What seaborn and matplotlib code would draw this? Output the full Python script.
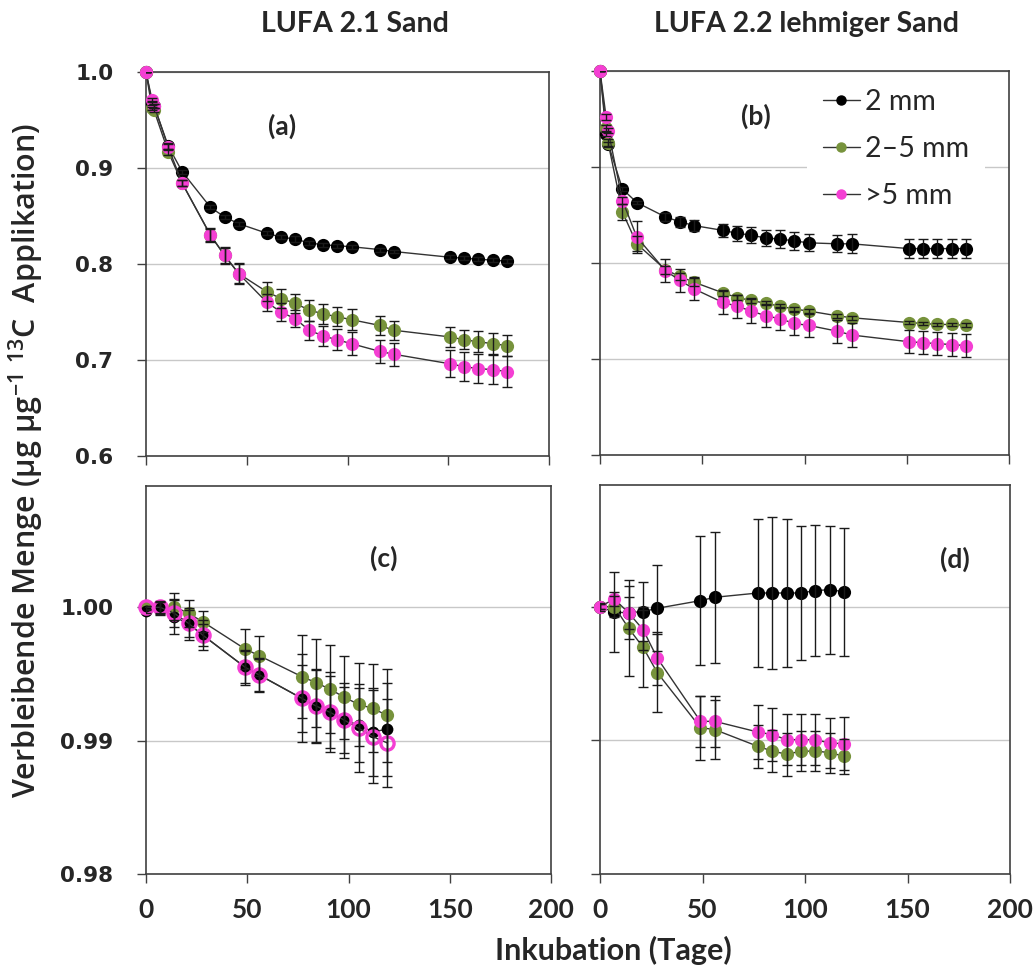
import numpy as np
import pandas as pd
import matplotlib
matplotlib.use('Agg')
import matplotlib.pyplot as plt
import seaborn as sns
from matplotlib.lines import Line2D

# ---------------- data ----------------
days_ab = [0, 3, 4, 11, 18, 32, 39, 46, 60, 67, 74, 81, 88, 95, 102, 116, 123, 151, 158, 165, 172, 179]
days_cd = [0, 7, 14, 21, 28, 49, 56, 77, 84, 91, 98, 105, 112, 119]

series_labels = ['2 mm', '2–5 mm', '>5 mm']

# (a) LUFA 2.1 Sand, upper
a_black = [1.000, 0.968, 0.965, 0.923, 0.896, 0.859, 0.849, 0.842, 0.832, 0.828, 0.826, 0.822, 0.820, 0.819, 0.818, 0.815, 0.813, 0.807, 0.806, 0.805, 0.804, 0.803]
a_black_err = [0.0, 0.002, 0.002, 0.003, 0.002, 0.002, 0.002, 0.002, 0.002, 0.002, 0.003, 0.002, 0.002, 0.002, 0.002, 0.002, 0.002, 0.002, 0.002, 0.002, 0.002, 0.002]
a_green = [1.000, 0.962, 0.960, 0.917, 0.884, 0.830, 0.809, 0.790, 0.771, 0.764, 0.759, 0.752, 0.748, 0.745, 0.742, 0.736, 0.731, 0.724, 0.721, 0.719, 0.717, 0.715]
a_green_err = [0.0, 0.002, 0.002, 0.003, 0.003, 0.006, 0.008, 0.010, 0.010, 0.010, 0.010, 0.011, 0.010, 0.010, 0.011, 0.010, 0.010, 0.010, 0.010, 0.011, 0.011, 0.011]
a_pink = [1.000, 0.971, 0.965, 0.922, 0.884, 0.830, 0.809, 0.790, 0.760, 0.750, 0.743, 0.731, 0.725, 0.721, 0.717, 0.709, 0.706, 0.696, 0.693, 0.691, 0.690, 0.688]
a_pink_err = [0.0, 0.002, 0.002, 0.003, 0.003, 0.007, 0.009, 0.011, 0.009, 0.009, 0.009, 0.010, 0.010, 0.011, 0.012, 0.012, 0.012, 0.014, 0.015, 0.015, 0.015, 0.016]

# (b) LUFA 2.2 lehmiger Sand, upper
b_black = [1.000, 0.934, 0.924, 0.877, 0.863, 0.848, 0.843, 0.839, 0.834, 0.831, 0.829, 0.826, 0.825, 0.823, 0.821, 0.820, 0.820, 0.815, 0.815, 0.815, 0.815, 0.815]
b_black_err = [0.0, 0.002, 0.002, 0.002, 0.002, 0.004, 0.005, 0.006, 0.007, 0.008, 0.008, 0.008, 0.009, 0.009, 0.009, 0.009, 0.010, 0.010, 0.010, 0.010, 0.010, 0.010]
b_green = [1.000, 0.941, 0.925, 0.853, 0.820, 0.793, 0.786, 0.780, 0.769, 0.764, 0.761, 0.758, 0.755, 0.752, 0.750, 0.745, 0.743, 0.738, 0.737, 0.736, 0.736, 0.735]
b_green_err = [0.0, 0.003, 0.004, 0.008, 0.008, 0.004, 0.004, 0.004, 0.003, 0.003, 0.003, 0.002, 0.002, 0.002, 0.002, 0.002, 0.002, 0.002, 0.002, 0.002, 0.002, 0.002]
b_pink = [1.000, 0.952, 0.938, 0.865, 0.827, 0.792, 0.782, 0.773, 0.759, 0.755, 0.750, 0.745, 0.742, 0.737, 0.735, 0.729, 0.725, 0.718, 0.717, 0.716, 0.715, 0.714]
b_pink_err = [0.0, 0.003, 0.003, 0.004, 0.017, 0.012, 0.012, 0.012, 0.012, 0.012, 0.012, 0.012, 0.012, 0.012, 0.012, 0.012, 0.012, 0.012, 0.012, 0.012, 0.012, 0.012]

# (c) LUFA 2.1 Sand, lower
c_black = [0.99970, 0.99992, 0.99930, 0.99875, 0.99792, 0.99550, 0.99492, 0.99317, 0.99260, 0.99212, 0.99155, 0.99117, 0.99067, 0.99085]
c_black_err = [0.0001, 0.0005, 0.0013, 0.0012, 0.0008, 0.0012, 0.0012, 0.0033, 0.0028, 0.0027, 0.0025, 0.0028, 0.0033, 0.0035]
c_green = [1.00000, 1.00000, 1.00005, 0.99955, 0.99892, 0.99687, 0.99637, 0.99480, 0.99435, 0.99385, 0.99325, 0.99272, 0.99242, 0.99190]
c_green_err = [0.0001, 0.0005, 0.0010, 0.0010, 0.0008, 0.0015, 0.0015, 0.0031, 0.0033, 0.0033, 0.0031, 0.0031, 0.0033, 0.0035]
c_pink = [1.00000, 1.00000, 0.99955, 0.99880, 0.99792, 0.99550, 0.99492, 0.99317, 0.99260, 0.99212, 0.99153, 0.99093, 0.99030, 0.98984]
c_pink_err = [0.0001, 0.0004, 0.0010, 0.0010, 0.0011, 0.0013, 0.0013, 0.0025, 0.0027, 0.0030, 0.0028, 0.0033, 0.0035, 0.0033]

# (d) LUFA 2.2 lehmiger Sand, lower
d_black = [1.00000, 0.99958, 0.99955, 0.99963, 0.99988, 1.00045, 1.00070, 1.00102, 1.00102, 1.00102, 1.00102, 1.00120, 1.00127, 1.00112]
d_black_err = [0.0003, 0.0030, 0.0020, 0.0022, 0.0032, 0.0048, 0.0049, 0.0055, 0.0057, 0.0055, 0.0050, 0.0049, 0.0048, 0.0048]
d_green = [1.00000, 1.00000, 0.99838, 0.99696, 0.99505, 0.99095, 0.99080, 0.98955, 0.98920, 0.98896, 0.98918, 0.98920, 0.98908, 0.98881]
d_green_err = [0.0002, 0.0008, 0.0036, 0.0030, 0.0029, 0.0024, 0.0022, 0.0016, 0.0016, 0.0016, 0.0015, 0.0015, 0.0015, 0.0013]
d_pink = [1.00000, 1.00057, 0.99953, 0.99828, 0.99614, 0.99142, 0.99142, 0.99062, 0.99043, 0.99005, 0.99005, 0.99005, 0.98980, 0.98975]
d_pink_err = [0.0002, 0.0005, 0.0012, 0.0015, 0.0020, 0.0019, 0.0019, 0.0020, 0.0020, 0.0019, 0.0019, 0.0019, 0.0019, 0.0020]

xticks = [0, 50, 100, 150, 200]
yticks_top = [0.6, 0.7, 0.8, 0.9, 1.0]
yticklabels_top = ['0.6', '0.7', '0.8', '0.9', '1.0']
yticks_bot = [0.98, 0.99, 1.00]
yticklabels_bot = ['0.98', '0.99', '1.00']

# ---------------- style ----------------
sns.set_theme(style='white')
plt.rcParams['font.family'] = ['Lato', 'DejaVu Sans']
plt.rcParams['mathtext.default'] = 'regular'

C_BLACK = '#000000'
C_GREEN = '#77933C'
C_PINK = '#F43FD3'
colors = [C_BLACK, C_GREEN, C_PINK]
LINE_C = '#333333'
SPINE_C = '#404040'
GRID_C = '#c8c8c8'
ERR_C = '#1a1a1a'

W, H = 1035, 973
fig = plt.figure(figsize=(W / 100, H / 100), dpi=100)


def px_axes(l, t, r, b):
    return fig.add_axes([l / W, 1 - b / H, (r - l) / W, (b - t) / H])


ax_a = px_axes(146, 72, 549, 456)
ax_b = px_axes(600, 71, 1009, 455)
ax_c = px_axes(146, 486, 551, 874)
ax_d = px_axes(600, 485, 1010, 874)


def draw(ax, days, vals, errs, color, hollow=False, ms=9.5, z=3):
    df = pd.DataFrame({'day': days, 'val': vals})
    sns.lineplot(data=df, x='day', y='val', ax=ax, color=LINE_C, lw=1.0,
                 marker='o', markersize=ms,
                 markerfacecolor=('none' if hollow else color),
                 markeredgecolor=color,
                 markeredgewidth=(2.4 if hollow else 0),
                 zorder=z, legend=False, errorbar=None, clip_on=False)
    ax.errorbar(days, vals, yerr=errs, fmt='none', ecolor=ERR_C,
                elinewidth=1.0, capsize=3.5, capthick=1.0, zorder=10)


draw(ax_a, days_ab, a_black, a_black_err, C_BLACK, z=3)
draw(ax_a, days_ab, a_green, a_green_err, C_GREEN, z=4)
draw(ax_a, days_ab, a_pink, a_pink_err, C_PINK, z=5)

draw(ax_b, days_ab, b_black, b_black_err, C_BLACK, z=3)
draw(ax_b, days_ab, b_green, b_green_err, C_GREEN, z=4)
draw(ax_b, days_ab, b_pink, b_pink_err, C_PINK, z=5)

draw(ax_c, days_cd, c_green, c_green_err, C_GREEN, z=3)
draw(ax_c, days_cd, c_black, c_black_err, C_BLACK, ms=8.5, z=4)
draw(ax_c, days_cd, c_pink, c_pink_err, C_PINK, hollow=True, ms=9.5, z=5)

draw(ax_d, days_cd, d_black, d_black_err, C_BLACK, z=3)
draw(ax_d, days_cd, d_green, d_green_err, C_GREEN, z=4)
draw(ax_d, days_cd, d_pink, d_pink_err, C_PINK, z=5)

ytick_font = dict(family='DejaVu Sans', weight='bold', size=15.5)

for ax in (ax_a, ax_b, ax_c, ax_d):
    ax.set_xlim(0, 200)
    ax.set_xticks(xticks)
    ax.set_xlabel('')
    ax.set_ylabel('')
    for s in ax.spines.values():
        s.set_visible(True)
        s.set_color(SPINE_C)
        s.set_linewidth(1.2)
    ax.tick_params(axis='both', which='major', direction='out', length=6.5,
                   width=1, color=SPINE_C, bottom=True, left=True, top=False, right=False)
    ax.yaxis.grid(True, color=GRID_C, lw=1)
    ax.xaxis.grid(False)
    ax.set_axisbelow(True)
    ax.set_facecolor('white')

for ax in (ax_a, ax_b):
    ax.set_ylim(0.6, 1.0)
    ax.set_yticks(yticks_top)
    ax.set_xticklabels([])
for ax in (ax_c, ax_d):
    ax.set_ylim(0.98, 1.0091)
    ax.set_yticks(yticks_bot)
    ax.set_xticks(xticks)
    ax.set_xticklabels([str(t) for t in xticks], fontsize=19, fontweight='bold')
    ax.tick_params(axis='x', pad=11)

ax_a.set_yticklabels(yticklabels_top, fontdict=ytick_font)
ax_c.set_yticklabels(yticklabels_bot, fontdict=ytick_font)
ax_b.set_yticklabels([])
ax_d.set_yticklabels([])
for ax in (ax_a, ax_c):
    ax.tick_params(axis='y', pad=17)

# panel letters
letter_kw = dict(fontsize=19, fontweight='bold', ha='center', va='center')
ax_a.text(0.337, 0.858, '(a)', transform=ax_a.transAxes, **letter_kw)
ax_b.text(0.381, 0.881, '(b)', transform=ax_b.transAxes, **letter_kw)
ax_c.text(0.586, 0.814, '(c)', transform=ax_c.transAxes, **letter_kw)
ax_d.text(0.866, 0.809, '(d)', transform=ax_d.transAxes, **letter_kw)

# legend
handles = [Line2D([0], [0], color=LINE_C, lw=1.0, marker='o', markersize=6.5,
                  markerfacecolor=c, markeredgecolor=c) for c in colors]
leg = ax_b.legend(handles, series_labels, loc='upper left',
                  bbox_to_anchor=((807 - 600) / 409, (455 - 73) / 384),
                  borderaxespad=0, frameon=True, fancybox=False, framealpha=1,
                  facecolor='white', edgecolor='none', fontsize=20.5,
                  handlelength=1.3, handletextpad=0.2, labelspacing=0.74,
                  borderpad=0.55)
leg.set_zorder(20)

# titles and axis labels
fig.text(355 / W, 1 - 24 / H, 'LUFA 2.1 Sand', ha='center', va='center',
         fontsize=20.5, fontweight='bold')
fig.text(806 / W, 1 - 24 / H, 'LUFA 2.2 lehmiger Sand', ha='center', va='center',
         fontsize=20.5, fontweight='bold')
fig.text(613 / W, 1 - 950 / H, 'Inkubation (Tage)', ha='center', va='center',
         fontsize=22, fontweight='bold')
fig.text(26 / W, 1 - 460 / H, r'Verbleibende Menge (µg µg$^{-1}$ $^{13}$C  Applikation)',
         ha='center', va='center', rotation=90, fontsize=22,
         family=['Open Sans', 'DejaVu Sans'], fontweight='semibold')

fig.savefig('out.png', dpi=100, facecolor='white')
